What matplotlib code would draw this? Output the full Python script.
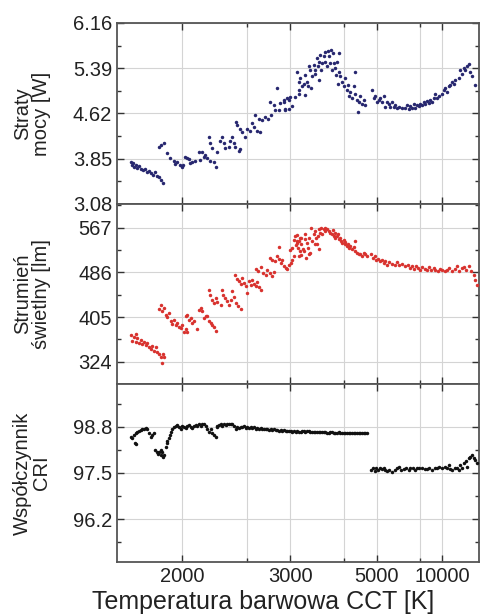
import numpy as np
import matplotlib
matplotlib.use("Agg")
import matplotlib.pyplot as plt
from matplotlib.ticker import FixedLocator, NullFormatter, FixedFormatter

plt.rcParams['font.family'] = ['Liberation Sans', 'DejaVu Sans']

# --- Straty mocy [W] ---
cct_power = [
    1730, 1735, 1740, 1744, 1754, 1758, 1767, 1776, 1786, 1797, 1807, 1817, 1827,
    1838, 1848, 1859, 1869, 1880, 1891,
    1868, 1895, 1880, 1914, 1931, 1952, 1960, 1972, 1990, 2002, 2009, 2021, 2033,
    2046, 2053, 2065, 2086, 2111, 2120, 2133, 2145, 2154, 2169, 2191, 2218, 2236,
    2181, 2191, 2206, 2244, 2267, 2279, 2297, 2307, 2338, 2349, 2366, 2381, 2392,
    2425, 2437,
    2395, 2410, 2437, 2456, 2484, 2503, 2532, 2547, 2568, 2603, 2635,
    2583, 2621, 2656, 2690, 2723, 2758,
    2746, 2789, 2805, 2826, 2851, 2867, 2915, 2932, 2982, 3028, 3070, 3125,
    2910, 2954, 2999, 2976, 2932,
    3095, 3119, 3119, 3145, 3170, 3196, 3212, 3223, 3249, 3266, 3277, 3305, 3321,
    3332, 3361, 3378, 3391, 3420, 3439, 3451, 3463, 3482, 3500, 3512, 3545, 3564,
    3578, 3610, 3631, 3644, 3678, 3700, 3713, 3727, 3749, 3785, 3800, 3823, 3845,
    3861, 3876, 3899, 3939, 3979, 4019, 4062, 4087, 4105, 4148, 4193, 4238, 4266,
    4285, 4333, 4361, 4380, 4431, 4482, 4533, 4587,
    4812, 4873, 4936, 4998, 5063, 5131, 5198, 5269, 5342, 5415, 5491, 5571, 5650,
    5734, 5818, 5907, 5999, 6188, 6390, 6498, 6609, 6720, 6840, 6959, 7087, 7220,
    7353, 7496, 7645, 7794, 7955, 8117, 8292, 8475, 8658, 8857, 9066, 9277, 9506,
    9990, 10256, 10537, 10823, 11136, 11468, 11806, 12180, 12579, 13441, 13908,
    14430, 14993, 15576, 16234, 16920, 17699, 18553, 20492,
]
power = [
    3.80, 3.74, 3.77, 3.71, 3.74, 3.69, 3.72, 3.68, 3.66, 3.68, 3.63, 3.65, 3.61,
    3.58, 3.62, 3.56, 3.54, 3.48, 3.43,
    4.05, 4.11, 4.08, 3.94, 3.87, 3.82, 3.76, 3.79, 3.75, 3.71, 3.74, 3.88, 3.86,
    3.84, 3.78, 3.80, 3.82, 3.96, 3.83, 3.96, 3.88, 3.92, 3.86, 3.82, 3.79, 3.71,
    4.22, 4.11, 4.03, 3.96, 4.16, 4.22, 4.11, 4.03, 4.05, 4.16, 4.22, 4.11, 4.05,
    3.99, 4.02,
    4.48, 4.42, 4.36, 4.31, 4.22, 4.36, 4.33, 4.45, 4.39, 4.33, 4.31,
    4.59, 4.53, 4.51, 4.56, 4.53, 4.59,
    4.82, 4.76, 4.68, 5.05, 4.68, 4.80, 4.82, 4.68, 4.85, 4.75, 4.90, 4.96,
    4.85, 4.88, 4.90, 4.70, 4.70,
    5.33, 5.16, 5.02, 5.22, 5.08, 5.13, 4.93, 5.28, 5.16, 5.08, 5.42, 5.36, 5.05,
    5.25, 5.45, 5.30, 5.36, 5.56, 5.42, 5.19, 5.50, 5.62, 5.36, 5.48, 5.59, 5.67,
    5.50, 5.42, 5.69, 5.59, 5.48, 5.70, 5.36, 5.65, 5.48, 5.39, 5.28, 5.50, 5.13,
    5.65, 5.33, 5.25, 5.16, 5.08, 5.22, 5.02, 5.10, 4.91, 4.99, 4.88, 5.08, 5.32,
    4.96, 4.85, 4.65, 4.82, 4.91, 4.79, 4.85, 4.76,
    5.02, 4.88, 4.91, 4.82, 4.85, 4.88, 4.82, 4.91, 4.73, 4.82, 4.79, 4.73, 4.82,
    4.73, 4.76, 4.72, 4.73, 4.72, 4.71, 4.76, 4.69, 4.75, 4.72, 4.79, 4.72, 4.76,
    4.75, 4.79, 4.76, 4.82, 4.79, 4.84, 4.80, 4.85, 4.82, 4.88, 4.96, 4.88, 4.91,
    4.96, 5.02, 5.05, 4.99, 5.08, 5.10, 5.16, 5.13, 5.19, 5.22, 5.36,
    5.30, 5.39, 5.36, 5.42, 5.47, 5.33, 5.25, 5.10,
]

# --- Strumien swietlny [lm] ---
cct_flux = [
    1730, 1735, 1742, 1750, 1750, 1758, 1766, 1774, 1782, 1791, 1799, 1807, 1816,
    1824, 1833, 1841, 1850, 1859, 1868, 1877, 1886, 1891, 1895,
    1868, 1877, 1886, 1895, 1904, 1914, 1923, 1932, 1942, 1952, 1962, 1972, 1982,
    1992, 2002, 2012, 2023, 2033, 2023, 2033, 2044, 2055, 2066, 2076, 2099, 2110,
    2122, 2134, 2145, 2157, 2169, 2181, 2193, 2206, 2218, 2231,
    2181, 2189, 2206, 2218, 2231, 2244, 2270, 2283, 2291, 2302, 2319, 2338, 2352,
    2366, 2381, 2395, 2416, 2440,
    2387, 2404, 2425, 2440, 2456, 2472, 2487, 2503, 2520, 2536, 2552, 2569, 2586,
    2603, 2621, 2646,
    2586, 2610, 2639, 2667, 2693, 2712, 2743, 2770, 2789,
    2743, 2770, 2797, 2830, 2851, 2872, 2893, 2915, 2937, 2959, 2982, 3005, 3028,
    3052, 2995, 3028, 3075, 3100, 3125, 3150, 3100, 3052, 3140, 3160, 2851,
    3070, 3095, 3110, 3119, 3145, 3160, 3181, 3196, 3212, 3223, 3233, 3249, 3266,
    3277, 3288, 3305, 3321, 3332, 3361, 3378, 3391, 3402, 3420, 3439, 3451, 3463,
    3482, 3500, 3512, 3545, 3564, 3578,
    3610, 3644, 3678, 3713, 3727, 3749, 3771, 3785, 3823, 3845, 3861, 3899, 3923,
    3939, 3979, 4003, 4019, 4062, 4087, 4105, 4148, 4193, 4238, 4266, 4285, 4333,
    4380, 4431, 4482, 4533, 4587, 4643,
    4789, 4838, 4909, 4960, 5038, 5131, 5198, 5269, 5342, 5415, 5522, 5650, 5818,
    5907, 6035, 6188, 6390, 6562, 6720, 6840, 6959, 7138, 7299, 7496, 7645, 7893,
    8117, 8292, 8584, 8857, 9066, 9416, 9746, 9990, 10417, 10823, 11261, 11806,
    12407, 12987, 13624, 14430, 14993, 15848, 16920, 18215, 19493, 20492, 21645,
]
flux = [
    372.6, 362.2, 369.5, 374.4, 360.4, 366.5, 358.6, 363.5, 356.2, 360.4, 354.3,
    358.6, 351.3, 346.5, 352.5, 344.0, 350.1, 342.2, 338.0, 333.1, 322.2, 338.0,
    331.9,
    419.3, 427.2, 415.1, 421.2, 409.0, 404.7, 412.0, 396.9, 392.6, 399.9, 390.8,
    393.8, 387.7, 384.7, 390.8, 378.6, 382.9, 378.6, 406.0, 409.0, 399.9, 402.9,
    395.0, 396.9, 382.9, 418.1, 421.2, 415.1, 402.9, 406.0, 407.2, 396.9, 393.8,
    390.8, 386.5, 380.5,
    453.3, 445.4, 436.3, 430.3, 439.4, 431.5, 427.2, 453.3, 445.4, 439.4, 433.3,
    427.2, 436.3, 451.5, 441.2, 430.3, 424.2, 419.3,
    481.9, 474.0, 469.7, 465.5, 475.8, 466.7, 460.6, 448.5, 469.7, 463.7, 471.6,
    465.5, 460.6, 467.9, 459.4, 454.5,
    492.2, 488.0, 495.8, 484.9, 481.9, 489.8, 484.9, 480.1, 486.1,
    512.2, 508.0, 506.2, 515.3, 510.4, 503.1, 509.2, 497.1, 494.0, 492.2, 500.1,
    503.1, 509.2, 515.3, 527.4, 530.5, 536.5, 539.6, 542.6, 548.7, 552.9, 545.6,
    524.4, 518.3, 532.3,
    551.8, 542.7, 530.5, 515.4, 548.8, 536.6, 527.5, 524.5, 545.7, 554.8, 512.3,
    539.7, 530.5, 548.8, 518.4, 521.4, 567.0, 542.7, 554.8, 536.6, 560.9, 548.8,
    537.8, 551.8, 527.5, 564.0, 557.9, 567.0, 554.8, 564.0, 560.9, 565.8,
    564.0, 560.9, 557.9, 554.8, 562.1, 551.8, 557.9, 548.8, 551.8, 556.1, 545.7,
    548.8, 542.7, 539.7, 543.9, 536.6, 541.5, 533.6, 537.8, 530.5, 533.6, 527.5,
    531.8, 542.7, 524.5, 521.4, 518.4, 519.6, 515.4, 521.4, 518.4, 515.4,
    518.4, 512.3, 515.4, 509.3, 511.1, 506.3, 509.3, 503.2, 507.5, 500.2, 505.0,
    501.4, 500.2, 505.0, 499.0, 501.4, 497.1, 500.2, 494.1, 497.1, 492.9, 497.1,
    494.1, 491.1, 495.3, 492.9, 491.1, 495.3, 491.1, 494.1, 490.5, 489.3, 492.9,
    490.5, 488.0, 491.1, 494.1, 489.3, 492.9, 497.1, 488.0, 494.1, 495.3, 491.1,
    497.1, 488.0, 482.0, 472.9, 463.8,
]

# --- Wspolczynnik CRI ---
cct_cri = [
    1730, 1735, 1742, 1750, 1758, 1766, 1774, 1782, 1791, 1799, 1807, 1816, 1824,
    1833, 1841, 1746, 1754,
    1845, 1855, 1862, 1868, 1877, 1880, 1886, 1895, 1891, 1904, 1910, 1914, 1923,
    1929, 1936, 1942, 1952, 1962, 1972, 1982, 1992, 2002, 2012, 2023, 2033, 2044,
    2055, 2066, 2076, 2088, 2099, 2110, 2122, 2134, 2145, 2157, 2169, 2181, 2193,
    2206, 2218, 2231, 2239, 2244, 2257, 2270, 2283, 2297, 2311, 2324, 2338, 2352,
    2366, 2381, 2395, 2410, 2425, 2440, 2456, 2472, 2487, 2503, 2520, 2536, 2552,
    2569, 2586, 2603, 2621, 2639, 2657, 2675, 2693, 2712, 2731, 2750, 2770, 2789,
    2810, 2830, 2851, 2872, 2893, 2915, 2937, 2959, 2982, 3005, 3028, 3052, 3075,
    3100, 3125, 3150,
    3170, 3196, 3223, 3249, 3277, 3305, 3332, 3361, 3391, 3420, 3451, 3482, 3512,
    3545, 3578, 3610, 3644, 3678, 3713, 3749, 3785, 3823, 3861, 3899, 3939, 3979,
    4019, 4062, 4105, 4148, 4193, 4238, 4285, 4333, 4380, 4431, 4482, 4533, 4587,
    4643,
    4789, 4838, 4909, 4960, 5038, 5131, 5198, 5269, 5342, 5415, 5522, 5650, 5784,
    5907, 5999, 6150, 6289, 6435, 6609, 6720, 6887, 7037, 7220, 7413, 7645, 7893,
    8117, 8361, 8658, 8985, 9277, 9597, 9990, 10417, 10823, 11136, 11468, 11806,
    12407, 12987, 13441, 13908, 14430, 14993, 15848, 16234, 16920, 17699, 18553,
    19493, 20492, 21645,
]
cri = [
    98.52, 98.47, 98.57, 98.61, 98.64, 98.68, 98.71, 98.75, 98.73, 98.77, 98.75,
    98.61, 98.52, 98.57, 98.61, 98.33, 98.31,
    98.15, 98.10, 98.03, 98.10, 98.15, 98.01, 98.08, 98.01, 97.96, 98.24, 98.33,
    98.40, 98.47, 98.57, 98.66, 98.75, 98.80, 98.83, 98.85, 98.80, 98.75, 98.83,
    98.80, 98.77, 98.83, 98.85, 98.80, 98.77, 98.83, 98.85, 98.81, 98.87, 98.83,
    98.87, 98.89, 98.83, 98.75, 98.66, 98.73, 98.61, 98.57, 98.52, 98.80, 98.83,
    98.85, 98.87, 98.83, 98.87, 98.85, 98.88, 98.87, 98.89, 98.87, 98.83, 98.75,
    98.80, 98.77, 98.80, 98.78, 98.81, 98.77, 98.80, 98.77, 98.79, 98.76, 98.78,
    98.75, 98.77, 98.74, 98.76, 98.74, 98.75, 98.73, 98.74, 98.72, 98.74, 98.71,
    98.73, 98.70, 98.72, 98.69, 98.71, 98.68, 98.70, 98.68, 98.69, 98.67, 98.68,
    98.66, 98.68, 98.66, 98.67, 98.65, 98.66,
    98.68, 98.67, 98.66, 98.67, 98.68, 98.66, 98.66, 98.65, 98.64, 98.65, 98.66,
    98.65, 98.64, 98.64, 98.64, 98.63, 98.63, 98.64, 98.64, 98.63, 98.63, 98.63,
    98.64, 98.63, 98.62, 98.63, 98.63, 98.62, 98.62, 98.63, 98.63, 98.62, 98.62,
    98.62, 98.62, 98.62, 98.62, 98.62, 98.62, 98.62,
    97.59, 97.63, 97.56, 97.63, 97.59, 97.63, 97.61, 97.65, 97.59, 97.56, 97.59,
    97.54, 97.59, 97.63, 97.68, 97.59, 97.62, 97.65, 97.59, 97.63, 97.65, 97.59,
    97.63, 97.65, 97.63, 97.61, 97.62, 97.63, 97.59, 97.63, 97.65, 97.68, 97.63,
    97.68, 97.65, 97.73, 97.62, 97.59, 97.63, 97.65, 97.59, 97.73, 97.65, 97.77,
    97.84, 97.68, 97.91, 97.96, 98.01, 97.91, 97.87, 97.77,
]

x_major = [2000, 3000, 5000, 10000]
x_minor = [2500, 4000, 7500]

panels = [
    (cct_power, power, '#27276f', 'Straty\nmocy [W]', (3.08, 6.16),
     [3.08, 3.85, 4.62, 5.39, 6.16], ['3.08', '3.85', '4.62', '5.39', '6.16']),
    (cct_flux, flux, '#d8322e', 'Strumień\nświetlny [lm]', (283.5, 610),
     [324, 405, 486, 567], ['324', '405', '486', '567']),
    (cct_cri, cri, '#111111', 'Współczynnik\nCRI', (95.0, 100.0),
     [96.2, 97.5, 98.8], ['96.2', '97.5', '98.8']),
]

fig = plt.figure(figsize=(4.81, 6.14), dpi=100)
left, width = 117 / 481, 362 / 481
bounds = [(23, 204), (204, 384), (384, 562)]

def fwd(x):
    return -1.0 / np.asarray(x, dtype=float)

def inv(y):
    return -1.0 / np.asarray(y, dtype=float)

axes = []
for i, (xs, ys, col, lab, ylim, yt, ytl) in enumerate(panels):
    top, bot = bounds[i]
    ax = fig.add_axes([left, 1 - bot / 614, width, (bot - top) / 614])
    ax.set_xscale('function', functions=(fwd, inv))
    ax.set_xlim(1e6 / 600, 1e6 / 43)
    ax.set_ylim(*ylim)
    ax.plot(xs, ys, 'o', color=col, ms=2.5, mew=0, zorder=3)

    step = yt[1] - yt[0]
    minors = [v + step / 2 for v in [yt[0] - step] + yt]
    ax.yaxis.set_major_locator(FixedLocator(yt))
    ax.yaxis.set_major_formatter(FixedFormatter(ytl))
    ax.yaxis.set_minor_locator(FixedLocator(minors))

    ax.xaxis.set_major_locator(FixedLocator(x_major))
    ax.xaxis.set_minor_locator(FixedLocator(x_minor))
    ax.xaxis.set_minor_formatter(NullFormatter())
    if i < 2:
        ax.xaxis.set_major_formatter(NullFormatter())
    else:
        ax.xaxis.set_major_formatter(FixedFormatter([str(v) for v in x_major]))

    ax.grid(True, which='major', color='#d4d4d4', lw=0.8)
    ax.grid(True, which='minor', axis='x', color='#d4d4d4', lw=0.8)
    ax.tick_params(which='both', direction='in', top=True, right=True,
                   labelsize=14.5, colors='#333333', labelcolor='#222222')
    ax.tick_params(which='major', length=5, width=1)
    ax.tick_params(which='minor', length=3, width=1)
    for s in ax.spines.values():
        s.set_color('#555555')
        s.set_linewidth(1.3)

    fig.text(32 / 481, 1 - (top + bot) / 2 / 614, lab, rotation=90,
             ha='center', va='center', multialignment='center',
             fontsize=14.5, color='#222222', linespacing=1.0)
    axes.append(ax)

# x label sits slightly left of the axes centre in the original
fig.text(263 / 481, 1 - 602 / 614, 'Temperatura barwowa CCT [K]',
         ha='center', va='center', fontsize=18, color='#222222')

fig.savefig('out.png', dpi=100)
